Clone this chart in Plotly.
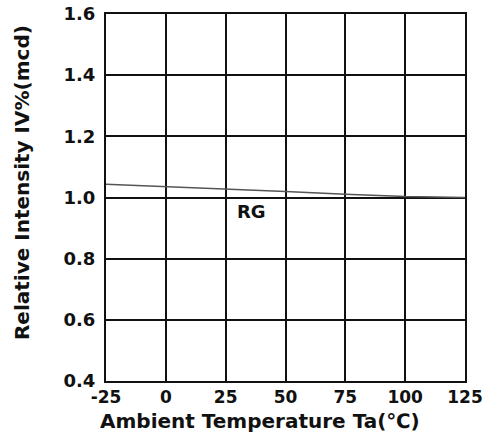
import plotly.graph_objects as go

# Relative luminous intensity vs. ambient temperature
temperature = [-25, 0, 25, 50, 75, 100, 125]
intensity = [1.043, 1.036, 1.028, 1.020, 1.011, 1.003, 1.000]

x_ticks = [-25, 0, 25, 50, 75, 100, 125]
y_ticks = [0.4, 0.6, 0.8, 1.0, 1.2, 1.4, 1.6]
y_tick_text = ["0.4", "0.6", "0.8", "1.0", "1.2", "1.4", "1.6"]

series_label = "RG"
label_pos = (36, 0.955)

x_title = "Ambient Temperature Ta(℃)"
y_title = "Relative Intensity IV%(mcd)"

font_family = "DejaVu Sans, Liberation Sans, Arial, sans-serif"
ink = "#111111"

fig = go.Figure()
fig.add_trace(go.Scatter(
    x=temperature, y=intensity, mode="lines",
    line=dict(color="#555555", width=1.5),
    showlegend=False, hoverinfo="skip",
))

fig.add_annotation(
    x=label_pos[0], y=label_pos[1], text="<b>" + series_label + "</b>",
    showarrow=False, font=dict(family=font_family, size=18, color=ink),
)

# axis titles placed as paper annotations
fig.add_annotation(
    xref="paper", yref="paper", x=0.43, y=-0.109,
    text="<b>" + x_title + "</b>", showarrow=False,
    xanchor="center", yanchor="middle",
    font=dict(family=font_family, size=20, color=ink),
)
fig.add_annotation(
    xref="paper", yref="paper", x=-0.234, y=0.542,
    text="<b>" + y_title + "</b>", showarrow=False, textangle=-90,
    xanchor="center", yanchor="middle",
    font=dict(family=font_family, size=20, color=ink),
)

fig.update_layout(
    width=490, height=442,
    margin=dict(l=106, r=25, t=14, b=61),
    paper_bgcolor="white", plot_bgcolor="white",
    font=dict(family=font_family, color=ink),
)

fig.update_xaxes(
    range=[-25, 125], tickvals=x_ticks, ticktext=[str(v) for v in x_ticks],
    showgrid=True, gridcolor=ink, gridwidth=2,
    showline=True, linecolor=ink, linewidth=2, mirror=True,
    ticks="", zeroline=False, ticklabelstandoff=0, automargin=False,
    tickfont=dict(family=font_family, size=17, color=ink, weight="bold"),
)
fig.update_yaxes(
    range=[0.4, 1.6], tickvals=y_ticks, ticktext=y_tick_text,
    showgrid=True, gridcolor=ink, gridwidth=2,
    showline=True, linecolor=ink, linewidth=2, mirror=True,
    ticks="", zeroline=False, ticklabelstandoff=5, automargin=False,
    tickfont=dict(family=font_family, size=18, color=ink, weight="bold"),
)

fig.write_html("out.html")
